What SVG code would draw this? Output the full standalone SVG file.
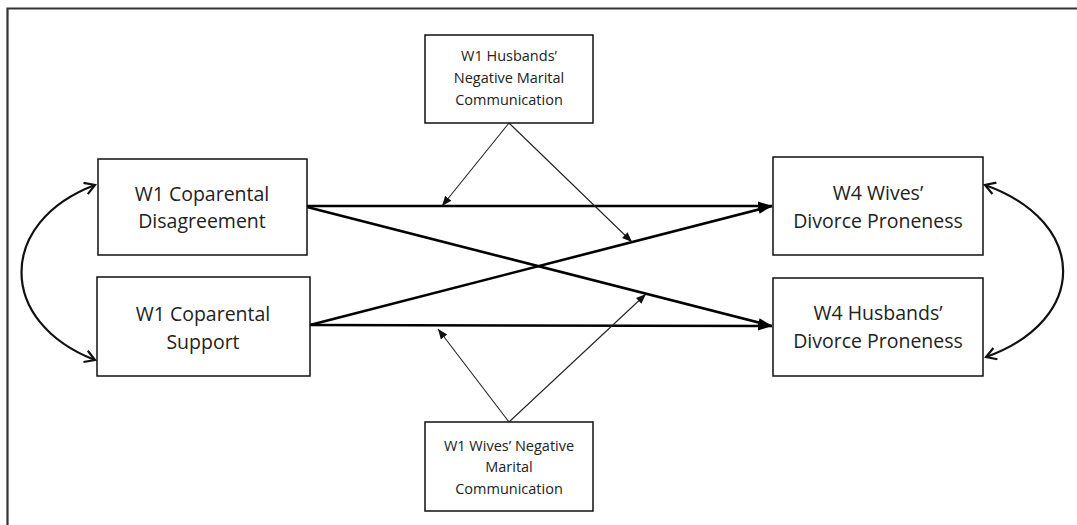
<svg xmlns="http://www.w3.org/2000/svg" width="1077" height="525" viewBox="0 0 1077 525">
<style>
.box{fill:#fff;stroke:#111;stroke-width:1.5}
.big{font-family:"Open Sans","DejaVu Sans",sans-serif;font-size:19.5px;fill:#222;text-anchor:middle}
.small{font-family:"Open Sans","DejaVu Sans",sans-serif;font-size:14.5px;fill:#222;text-anchor:middle}
.thick{stroke:#000;stroke-width:2.6;fill:none}
.thin{stroke:#222;stroke-width:1.1;fill:none}
.curve{stroke:#111;stroke-width:2.2;fill:none}
</style>
<defs>
<marker id="ahBig" markerUnits="userSpaceOnUse" markerWidth="16" markerHeight="12" refX="14" refY="6" orient="auto"><path d="M0,1.5 L14,6 L0,10.5 Z" fill="#000"/></marker>
<marker id="ahSmall" markerUnits="userSpaceOnUse" markerWidth="12" markerHeight="10" refX="10" refY="5" orient="auto"><path d="M0,1 L10,5 L0,9 Z" fill="#111"/></marker>
<marker id="ahOpen" markerUnits="userSpaceOnUse" markerWidth="14" markerHeight="14" refX="11" refY="7" orient="auto-start-reverse"><path d="M1,1 L11,7 L1,13" fill="none" stroke="#111" stroke-width="2.2"/></marker>
</defs>
<g id="frame"><path d="M7.5,525 L7.5,8.5 L1077,8.5" fill="none" stroke="#333" stroke-width="2.2"/></g>
<g id="connectors">
<line class="thick" x1="307" y1="206" x2="772" y2="206" marker-end="url(#ahBig)"/>
<line class="thick" x1="307" y1="207" x2="772" y2="326" marker-end="url(#ahBig)"/>
<line class="thick" x1="310" y1="325" x2="772" y2="326" marker-end="url(#ahBig)"/>
<line class="thick" x1="310" y1="325" x2="772" y2="206" marker-end="url(#ahBig)"/>
<line class="thin" x1="509" y1="123" x2="442" y2="206" marker-end="url(#ahSmall)"/>
<line class="thin" x1="509" y1="123" x2="632" y2="242" marker-end="url(#ahSmall)"/>
<line class="thin" x1="509" y1="422" x2="438" y2="329" marker-end="url(#ahSmall)"/>
<line class="thin" x1="509" y1="422" x2="646" y2="294" marker-end="url(#ahSmall)"/>
<path class="curve" d="M95,185 C-3,222 -3,322 95,360" marker-start="url(#ahOpen)" marker-end="url(#ahOpen)"/>
<path class="curve" d="M985,185 C1089,222 1089,320 986,357" marker-start="url(#ahOpen)" marker-end="url(#ahOpen)"/>
</g>
<g id="husbands-comm"><rect class="box" x="425" y="35" width="168" height="88"/>
<text class="small" x="509" y="61">W1 Husbands’</text><text class="small" x="509" y="83">Negative Marital</text><text class="small" x="509" y="105">Communication</text></g>
<g id="wives-comm"><rect class="box" x="425" y="422" width="168" height="89"/>
<text class="small" x="509" y="451">W1 Wives’ Negative</text><text class="small" x="509" y="472">Marital</text><text class="small" x="509" y="494">Communication</text></g>
<g id="disagreement"><rect class="box" x="98" y="159" width="209" height="96"/>
<text class="big" x="202" y="201">W1 Coparental</text><text class="big" x="202" y="228">Disagreement</text></g>
<g id="support"><rect class="box" x="97" y="277" width="213" height="99"/>
<text class="big" x="203" y="321">W1 Coparental</text><text class="big" x="203" y="349">Support</text></g>
<g id="wives-divorce"><rect class="box" x="773" y="157" width="210" height="98"/>
<text class="big" x="878" y="200">W4 Wives’</text><text class="big" x="878" y="228">Divorce Proneness</text></g>
<g id="husbands-divorce"><rect class="box" x="773" y="278" width="210" height="98"/>
<text class="big" x="878" y="320">W4 Husbands’</text><text class="big" x="878" y="348">Divorce Proneness</text></g>
</svg>
